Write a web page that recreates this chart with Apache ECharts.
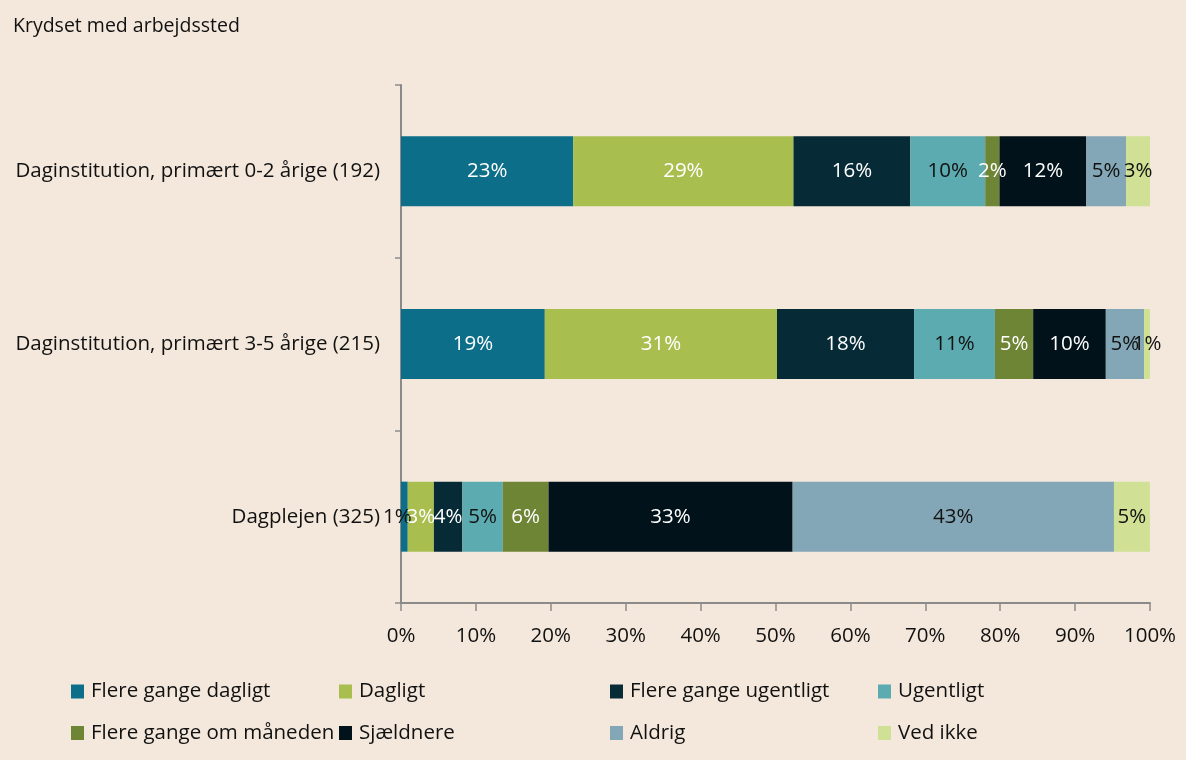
<!DOCTYPE html>
<html>
<head>
<meta charset="utf-8">
<script src="https://cdn.jsdelivr.net/npm/echarts@6/dist/echarts.min.js"></script>
<style>
html,body{margin:0;padding:0;background:#f4e8dc;}
#c{width:1186px;height:760px;}
</style>
</head>
<body>
<div id="c"></div>
<script>
const title = 'Krydset med arbejdssted';
const categories = ['Daginstitution, primært 0-2 årige (192)', 'Daginstitution, primært 3-5 årige (215)', 'Dagplejen (325)'];
const seriesNames = ['Flere gange dagligt', 'Dagligt', 'Flere gange ugentligt', 'Ugentligt', 'Flere gange om måneden', 'Sjældnere', 'Aldrig', 'Ved ikke'];
const flereDagligt   = [23.0, 19.2, 0.9];
const dagligt        = [29.4, 31.0, 3.49];
const flereUgentligt = [15.6, 18.3, 3.8];
const ugentligt      = [10.0, 10.8, 5.4];
const flereMaaned    = [1.9, 5.1, 6.1];
const sjaeldnere     = [11.6, 9.7, 32.6];
const aldrig         = [5.3, 5.1, 42.9];
const vedIkke        = [3.2, 0.8, 4.8];
const xTicks = [0, 10, 20, 30, 40, 50, 60, 70, 80, 90, 100];

const values = [flereDagligt, dagligt, flereUgentligt, ugentligt, flereMaaned, sjaeldnere, aldrig, vedIkke];
const colors = ['#0c6e88', '#a8bf4f', '#072b36', '#5cabb0', '#6f8536', '#02121a', '#84a7b7', '#d0e095'];
const labelColors = ['#ffffff', '#ffffff', '#ffffff', '#111111', '#ffffff', '#ffffff', '#111111', '#111111'];
const FONT = '"Open Sans", "Noto Sans", sans-serif';

const series = seriesNames.map((name, i) => ({
  name: name,
  type: 'bar',
  stack: 'total',
  barWidth: 70,
  data: values[i].map((v, j) => (i === 0 && j === 2)
    ? { value: v, label: { color: '#111111', offset: [-7, 0] } }
    : v),
  itemStyle: { color: colors[i] },
  label: {
    show: true,
    position: 'inside',
    formatter: p => Math.round(p.value) + '%',
    color: labelColors[i],
    fontSize: 20.5,
    fontFamily: FONT
  },
  emphasis: { disabled: true }
}));

const legendCols = [
  { x: 71, names: [seriesNames[0], seriesNames[4]] },
  { x: 339, names: [seriesNames[1], seriesNames[5]] },
  { x: 610, names: [seriesNames[2], seriesNames[6]] },
  { x: 878, names: [seriesNames[3], seriesNames[7]] }
];

const chart = echarts.init(document.getElementById('c'));
chart.setOption({
  backgroundColor: '#f4e8dc',
  animation: false,
  title: {
    text: title,
    left: 8, top: 11,
    textStyle: { fontSize: 19.5, fontWeight: 'normal', color: '#111', fontFamily: FONT }
  },
  legend: legendCols.map(c => ({
    data: c.names,
    orient: 'vertical',
    left: c.x, top: 681,
    padding: 0,
    itemWidth: 13, itemHeight: 14,
    itemGap: 20.5,
    icon: 'rect',
    selectedMode: false,
    textStyle: { fontSize: 20.5, lineHeight: 14, color: '#111', fontFamily: FONT, padding: [0, 0, 0, 2] }
  })),
  grid: { left: 401, right: 36, top: 85, bottom: 157 },
  xAxis: {
    type: 'value',
    min: 0, max: 100, interval: 10,
    axisLine: { show: true, lineStyle: { color: '#8a8a8a', width: 2 } },
    axisTick: { show: true, length: 8, lineStyle: { color: '#8a8a8a', width: 1.5 } },
    splitLine: { show: false },
    axisLabel: {
      margin: 23,
      fontSize: 20.5, color: '#111', fontFamily: FONT,
      formatter: v => xTicks.includes(v) ? v + '%' : ''
    }
  },
  yAxis: {
    type: 'category',
    inverse: true,
    data: categories,
    axisLine: { show: true, lineStyle: { color: '#8a8a8a', width: 2 } },
    axisTick: { show: true, length: 6, lineStyle: { color: '#8a8a8a', width: 1.5 } },
    axisLabel: { margin: 21, fontSize: 20.5, color: '#111', fontFamily: FONT }
  },
  series: series
});
</script>
</body>
</html>
